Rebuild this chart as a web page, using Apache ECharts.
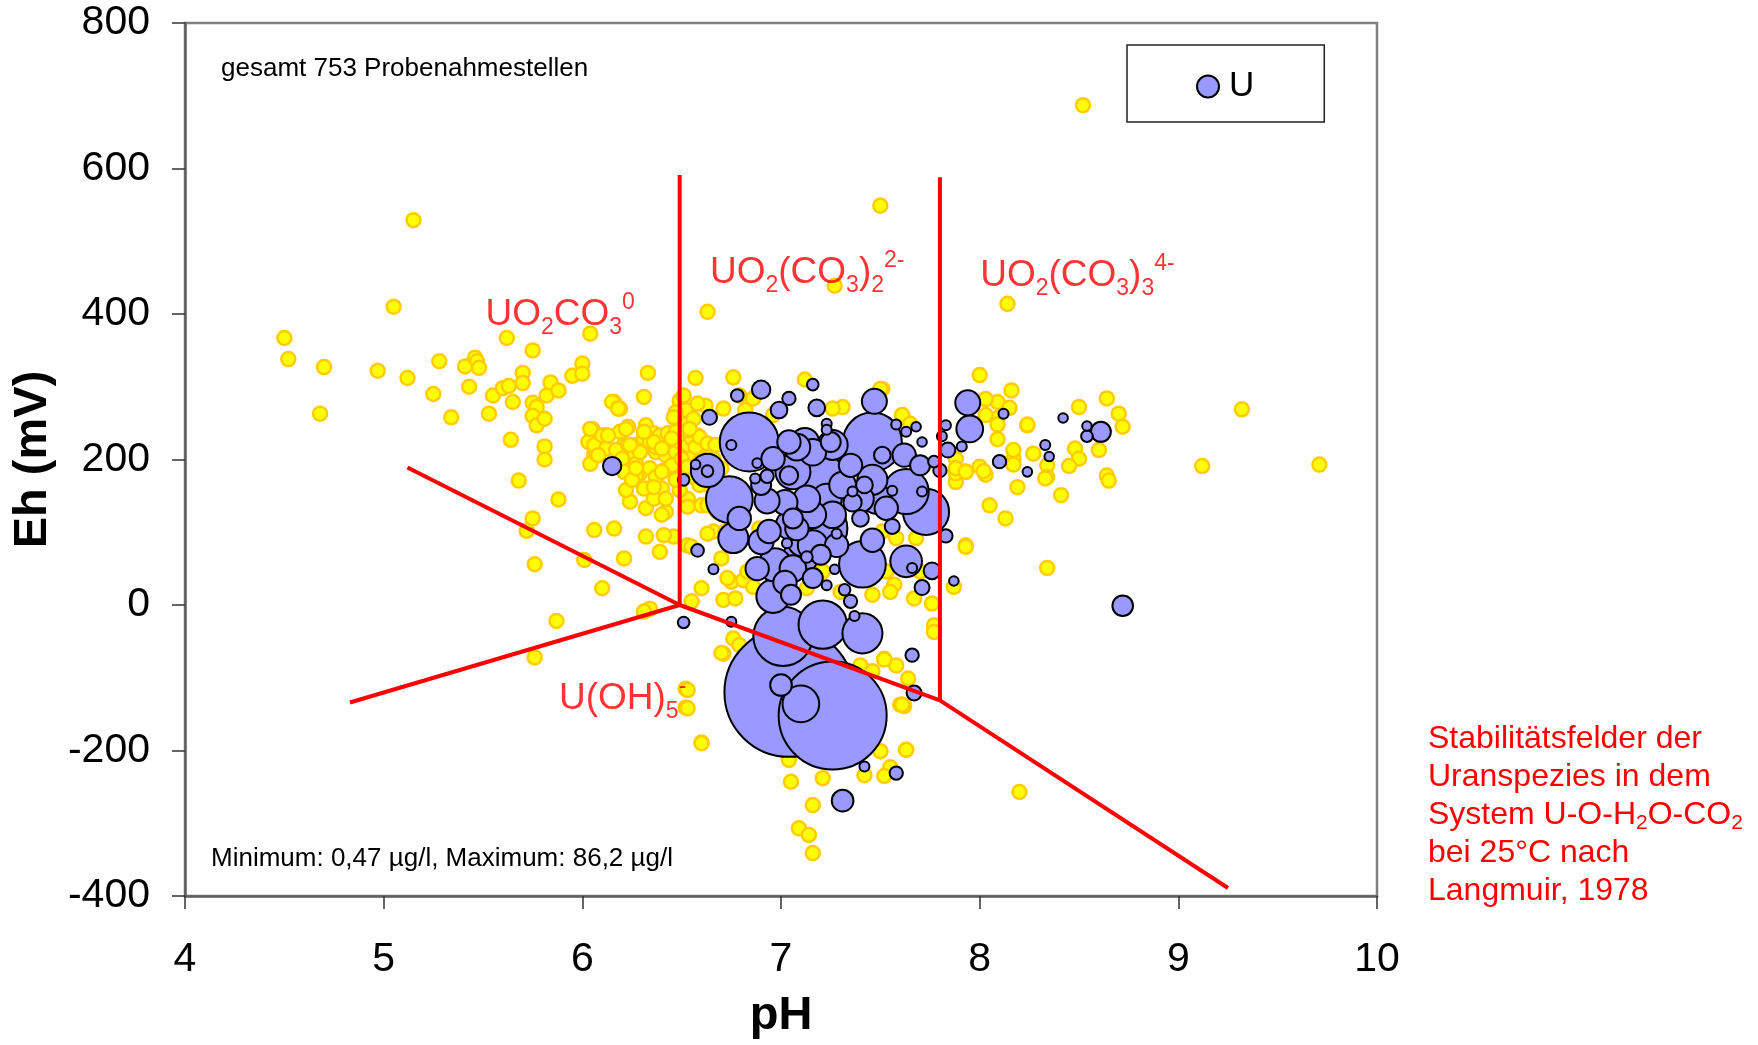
<!DOCTYPE html>
<html>
<head>
<meta charset="utf-8">
<title>Eh-pH Uran</title>
<script src="https://cdn.jsdelivr.net/npm/echarts@6/dist/echarts.min.js"></script>
<style>
  html, body { margin: 0; padding: 0; background: #fff; }
  #chart { width: 1758px; height: 1045px; }
</style>
</head>
<body>
<div id="chart"></div>
<script>
// Achsen
var phTicks = [4, 5, 6, 7, 8, 9, 10];
var ehTicks = [-400, -200, 0, 200, 400, 600, 800];

// alle Probenahmestellen: [pH, Eh (mV)]
var allSamples = [
  [5.15, 529], [5.05, 410], [4.50, 367], [4.52, 338], [4.70, 327], [4.68, 263], [4.97, 322], [5.12, 312],
  [5.28, 335], [5.25, 290], [5.34, 258], [5.43, 300], [5.41, 328], [5.46, 340], [5.47, 335], [5.48, 326],
  [5.53, 263], [5.55, 288], [5.60, 298], [5.63, 301], [5.62, 367], [5.75, 350], [5.70, 319], [5.70, 305],
  [5.65, 279], [5.75, 278], [5.77, 272], [5.75, 260], [5.77, 247], [5.81, 256], [5.82, 288], [5.84, 306],
  [5.64, 227], [5.81, 218], [5.81, 200], [5.68, 171], [5.88, 145], [5.75, 119], [5.72, 102], [5.76, 56],
  [5.87, -22], [5.76, -72],
  [6.04, 373], [6.63, 403], [8.14, 414], [6.00, 332], [5.95, 315], [6.00, 318], [5.88, 295], [6.33, 319],
  [6.57, 312], [6.76, 313], [7.12, 310], [8.00, 316], [6.31, 286], [6.16, 279], [6.19, 270], [7.31, 272],
  [7.51, 297], [7.61, 261], [7.27, 439], [7.50, 549], [8.52, 687],
  [6.64, 258], [8.64, 284], [8.50, 272], [8.70, 263], [8.16, 295], [8.09, 279], [8.24, 247], [9.32, 269],
  [9.12, 191], [9.71, 193], [8.64, 178], [8.65, 171], [8.72, 245], [8.60, 213], [8.48, 215], [8.50, 201],
  [8.45, 191], [8.34, 192], [8.34, 176], [8.27, 208], [8.19, 162], [8.17, 201], [8.09, 257], [8.03, 283],
  [7.92, 183], [8.00, 190], [7.88, 169], [8.34, 51], [7.93, 82], [8.05, 137], [8.13, 119], [8.41, 151],
  [8.09, 228], [8.17, 193], [7.88, 181], [8.03, 179], [8.15, 271], [8.03, 261], [8.09, 248], [8.24, 248],
  [8.17, 213], [8.33, 174], [8.02, 184], [7.88, 201], [7.88, 188], [7.93, 183],
  [8.20, -257], [7.77, -28], [7.63, -199], [7.60, -137], [7.50, -201], [7.55, -223], [7.52, -235], [7.42, -234],
  [7.21, -238], [7.05, -243], [7.16, -275], [7.09, -307], [7.14, -316], [7.16, -341], [6.60, -189], [6.71, -67],
  [7.04, -211], [7.40, -83], [7.58, -83], [7.52, -74], [6.52, -115], [6.52, -141], [7.76, 2],
  [6.70, -66], [6.76, -46], [6.79, -55], [7.64, -101], [7.46, -91], [7.61, -137], [7.50, -201], [7.77, -37],
  [6.06, 208], [6.12, 233], [6.15, 279], [6.18, 270], [6.19, 238], [6.21, 220], [6.23, 245], [6.24, 210],
  [6.27, 194], [6.29, 181], [6.32, 220], [6.32, 247], [6.36, 236], [6.34, 160], [6.40, 160], [6.37, 210],
  [6.41, 185], [6.44, 220], [6.46, 201], [6.42, 128], [6.40, 124], [6.32, 133], [6.24, 142], [6.22, 158],
  [6.49, 281], [6.52, 268], [6.47, 265], [6.53, 249], [6.58, 233], [6.61, 220], [6.54, 206], [6.59, 197],
  [6.51, 183], [6.53, 146], [6.53, 135], [6.49, 158], [6.60, 137], [6.63, 165], [6.63, 137], [6.66, 101],
  [6.63, 98], [6.53, 82], [6.46, 94], [6.41, 96], [6.32, 94], [6.39, 73], [6.21, 64], [6.16, 105],
  [6.06, 103], [6.01, 62], [6.10, 23], [6.34, -5], [6.31, -9], [6.55, 5], [6.60, 23], [6.71, 7],
  [6.75, 32], [6.81, 34], [6.86, 25], [6.79, 288], [6.82, 268], [6.71, 270], [6.62, 274], [6.72, 101],
  [6.70, 64], [6.77, 9], [6.55, 80], [6.03, 224], [6.05, 242], [6.04, 194], [6.07, 208],
  [7.61, 261], [7.65, 249], [7.58, 92], [7.68, 92], [7.53, 46], [7.57, 28], [7.67, 9], [7.62, -139],
  [7.63, -199], [7.52, -75], [7.87, 25], [7.93, 80], [7.88, 188], [7.93, 183], [7.61, -137], [6.53, -117],
  [6.53, -142], [7.04, -213], [6.60, -190],
  [6.86, 284], [6.96, 261], [7.26, 270], [7.50, 297], [7.72, 192], [7.51, 101], [7.70, 46], [7.55, 18],
  [7.13, 23], [7.21, 46], [7.30, 18], [7.46, 14], [6.89, 105], [6.73, 37], [6.83, 46], [6.68, 128],
  [6.06, 220], [6.10, 233], [6.12, 215], [6.17, 213], [6.20, 201], [6.23, 220], [6.27, 220], [6.29, 210],
  [6.31, 229], [6.34, 224], [6.37, 217], [6.39, 233], [6.42, 206], [6.43, 236], [6.45, 192], [6.47, 210],
  [6.49, 224], [6.53, 220], [6.55, 229], [6.57, 217], [6.59, 231], [6.63, 222], [6.67, 220], [6.34, 188],
  [6.37, 176], [6.27, 178], [6.21, 183], [6.25, 172], [6.31, 160], [6.36, 146], [6.42, 146], [6.47, 172],
  [6.50, 201], [6.53, 190], [6.57, 174], [6.59, 165], [6.66, 201], [6.70, 188], [6.73, 160], [6.69, 137],
  [6.47, 238], [6.53, 240], [6.56, 256], [6.46, 258], [6.51, 288], [6.58, 277],
  [6.31, 238], [6.24, 220], [6.36, 224], [6.40, 215], [6.45, 229], [6.54, 242], [6.27, 188], [6.40, 183],
  [6.36, 162], [6.04, 242], [6.08, 206], [6.13, 233], [6.22, 242]
];

// Uran-Gehalte: [pH, Eh (mV), U (µg/l)]
var uranium = [
  [7.04, -120, 86.2], [7.26, -152, 60.4], [7.01, -43, 18.2], [7.21, -27, 12.1], [7.41, -39, 8.3],
  [6.96, 12, 5.75], [7.05, 14, 2.07], [7.00, -110, 2.43], [7.10, -136, 6.96], [6.84, 224, 18.0],
  [6.75, 220, 0.52], [7.46, 224, 18.0], [6.74, 145, 11.3], [7.19, 176, 13.3], [7.06, 183, 6.34],
  [7.04, 178, 1.74], [7.02, 141, 3.23], [7.12, 224, 4.15], [7.63, 156, 10.5], [7.73, 128, 11.0],
  [7.84, 213, 1.16], [7.94, 278, 3.23], [7.95, 242, 3.68], [7.47, 280, 3.23], [6.90, 296, 1.74],
  [6.78, 288, 0.83], [7.04, 284, 0.92], [6.99, 268, 1.44], [7.16, 303, 0.70], [7.18, 271, 1.44],
  [6.64, 258, 1.16], [6.15, 191, 1.74], [6.63, 184, 0.70], [6.63, 185, 5.75], [6.57, 193, 0.47],
  [6.51, 172, 0.70], [6.76, 92, 4.66], [6.90, 87, 3.23], [6.58, 75, 0.83], [6.66, 49, 0.52],
  [7.10, 67, 6.34], [7.13, 66, 0.70], [7.41, 56, 11.3], [7.46, 89, 2.82], [7.63, 60, 5.19],
  [7.66, 51, 0.52], [7.76, 47, 1.44], [7.87, 33, 0.47], [7.71, 24, 1.16], [7.56, 108, 1.16],
  [7.83, 95, 0.92], [7.32, 21, 0.70], [7.35, 5, 0.92], [7.37, -15, 0.52], [7.23, 27, 0.52],
  [7.27, 49, 0.47], [6.51, -24, 0.70], [6.75, -23, 0.52], [7.66, -69, 0.92], [7.67, -121, 1.16],
  [7.42, -222, 0.52], [7.58, -231, 0.92], [7.31, -269, 2.43], [7.68, 245, 0.47], [7.71, 224, 0.47],
  [7.63, 238, 0.52], [7.58, 248, 0.52], [8.12, 263, 0.52], [8.33, 220, 0.52], [8.35, 204, 0.47],
  [8.24, 183, 0.47], [8.10, 197, 0.92], [7.91, 218, 0.52], [7.83, 247, 0.52], [7.81, 232, 0.52],
  [7.77, 197, 0.70], [7.80, 185, 0.92], [7.23, 249, 0.52], [7.23, 241, 0.52], [6.88, 195, 0.47],
  [6.93, 177, 0.92], [6.87, 174, 0.52], [6.93, 143, 3.23], [7.06, 119, 2.07], [7.03, 85, 0.52],
  [7.28, 98, 0.52], [7.36, 156, 0.52], [7.42, 165, 1.44], [7.40, 119, 1.44], [7.71, 156, 0.52],
  [7.56, 157, 0.52], [7.36, 141, 1.74], [7.26, 124, 3.68], [7.20, 105, 14.7], [7.11, 87, 4.66],
  [6.97, 55, 5.75], [7.02, 31, 2.82], [7.16, 37, 2.07], [7.26, 220, 4.66], [7.16, 210, 3.68],
  [6.96, 201, 2.82], [6.90, 165, 2.07], [7.31, 165, 3.68], [7.48, 146, 4.66], [7.53, 133, 2.82],
  [7.08, 105, 2.82], [7.16, 124, 3.68], [7.28, 82, 2.82], [7.20, 69, 2.07], [7.06, 50, 3.68],
  [6.88, 50, 2.82], [7.04, 224, 2.82], [7.46, 172, 4.66], [8.72, -1, 2.2], [8.61, 238, 2.07],
  [8.54, 232, 0.70], [8.54, 246, 0.47], [8.42, 257, 0.47],
  [7.08, 217, 3.68], [7.25, 224, 2.07], [7.35, 192, 2.82], [7.51, 206, 1.44], [7.62, 206, 2.82],
  [7.70, 192, 2.07], [7.40, 146, 3.68], [7.23, 146, 4.66], [7.13, 146, 3.68], [7.05, 110, 4.66],
  [7.16, 82, 4.66], [6.94, 101, 2.82], [6.79, 119, 2.82]
];

// Stabilitätsfelder nach Langmuir (1978): Grenzlinien [pH, Eh]
var boundaries = [
  [[6.49, 591], [6.49, 0]],
  [[7.80, 588], [7.80, -131]],
  [[5.12, 189], [6.49, 0]],
  [[4.83, -134], [6.49, 0]],
  [[6.49, 0], [7.80, -131], [9.25, -389]]
];

// Beschriftung der Uranspezies: [Text, pH, Eh]
var speciesLabels = [
  ['{m|UO}{s|2}{m|CO}{s|3}{p|0}', 5.51, 399],
  ['{m|UO}{s|2}{m|(CO}{s|3}{m|)}{s|2}{p|2-}', 6.64, 456],
  ['{m|UO}{s|2}{m|(CO}{s|3}{m|)}{s|3}{p|4-}', 8.00, 452],
  ['{m|U(OH)}{s|5}{p|-}', 5.88, -129]
];

var FONT = '"Liberation Sans", Arial, sans-serif';
var chart = echarts.init(document.getElementById('chart'));

// grosse Blasen zuerst zeichnen, kleine liegen oben
var bubbles = uranium.slice().sort(function (a, b) { return b[2] - a[2]; });

var series = [
  {
    name: 'Proben',
    type: 'scatter',
    data: allSamples,
    symbolSize: 14,
    itemStyle: { color: '#ffff00', borderColor: '#ffcc00', borderWidth: 2.5, opacity: 1 },
    z: 2
  },
  {
    name: 'U',
    type: 'scatter',
    data: bubbles,
    symbolSize: function (d) { return 13.9 * Math.sqrt(d[2]); },
    itemStyle: { color: '#9999ff', borderColor: '#000', borderWidth: 2, opacity: 1 },
    z: 3
  }
];

boundaries.forEach(function (seg, i) {
  series.push({
    name: 'grenze' + i,
    type: 'line',
    data: seg,
    symbol: 'none',
    silent: true,
    lineStyle: { color: '#ff0000', width: 4 },
    z: 4
  });
});

series.push({
  name: 'spezies',
  type: 'scatter',
  silent: true,
  symbolSize: 1,
  itemStyle: { color: 'rgba(0,0,0,0)' },
  data: speciesLabels.map(function (s) {
    return { value: [s[1], s[2]], label: { formatter: s[0] } };
  }),
  label: {
    show: true,
    position: 'right',
    distance: 0,
    rich: {
      m: { fontSize: 37, lineHeight: 48, verticalAlign: 'middle', color: '#ff0000', fontFamily: FONT },
      s: { fontSize: 23, lineHeight: 23, verticalAlign: 'bottom', color: '#ff0000', fontFamily: FONT },
      p: { fontSize: 23, lineHeight: 17, verticalAlign: 'top', color: '#ff0000', fontFamily: FONT }
    }
  },
  z: 5
});

chart.setOption({
  animation: false,
  backgroundColor: '#fff',
  textStyle: { fontFamily: FONT },
  grid: {
    left: 185, right: 381, top: 23, bottom: 145,
    show: true, borderColor: '#808080', borderWidth: 2.5, backgroundColor: '#fff'
  },
  legend: {
    data: ['U'],
    left: 1127, top: 45,
    padding: [22, 70, 16, 69],
    itemWidth: 32, itemHeight: 22,
    icon: 'circle',
    borderColor: '#222', borderWidth: 1.5,
    textStyle: { fontSize: 35, lineHeight: 35, color: '#000', fontFamily: FONT, padding: [4, 0, 0, 0] }
  },
  xAxis: {
    type: 'value',
    min: phTicks[0], max: phTicks[phTicks.length - 1], interval: 1,
    name: 'pH', nameLocation: 'middle', nameGap: 97,
    nameTextStyle: { fontSize: 47, fontWeight: 'bold', color: '#000', fontFamily: FONT },
    axisLine: { show: true, onZero: false, lineStyle: { color: '#606060', width: 2.5 } },
    axisTick: { show: true, inside: false, length: 13, lineStyle: { color: '#333', width: 1.5 } },
    axisLabel: { fontSize: 41, color: '#000', margin: 43, fontFamily: FONT },
    splitLine: { show: false }
  },
  yAxis: {
    type: 'value',
    min: ehTicks[0], max: ehTicks[ehTicks.length - 1], interval: 200,
    name: 'Eh (mV)', nameLocation: 'middle', nameGap: 124, nameRotate: 90,
    nameTextStyle: { fontSize: 47, fontWeight: 'bold', color: '#000', fontFamily: FONT },
    axisLine: { show: true, onZero: false, lineStyle: { color: '#606060', width: 2.5 } },
    axisTick: { show: true, inside: false, length: 13, lineStyle: { color: '#333', width: 1.5 } },
    axisLabel: { fontSize: 41, color: '#000', margin: 35, fontFamily: FONT },
    splitLine: { show: false }
  },
  graphic: [
    {
      type: 'text', left: 221, top: 56, z: 10,
      style: { text: 'gesamt 753 Probenahmestellen', fill: '#000', fontSize: 26, fontFamily: FONT }
    },
    {
      type: 'text', left: 211, top: 846, z: 10,
      style: { text: 'Minimum: 0,47 µg/l, Maximum: 86,2 µg/l', fill: '#000', fontSize: 26, fontFamily: FONT }
    },
    {
      type: 'text', left: 1428, top: 723, z: 10,
      style: {
        text: '{n|Stabilitätsfelder der}\n{n|Uranspezies in dem}\n{n|System U-O-H}{s|2}{n|O-CO}{s|2}\n{n|bei 25°C nach}\n{n|Langmuir, 1978}',
        fill: '#ff0000',
        fontFamily: FONT,
        fontSize: 32,
        rich: {
          n: { fontSize: 32, lineHeight: 38, fill: '#ff0000', fontFamily: FONT },
          s: { fontSize: 21, lineHeight: 17, verticalAlign: 'bottom', fill: '#ff0000', fontFamily: FONT }
        }
      }
    }
  ],
  series: series
});
</script>
</body>
</html>
